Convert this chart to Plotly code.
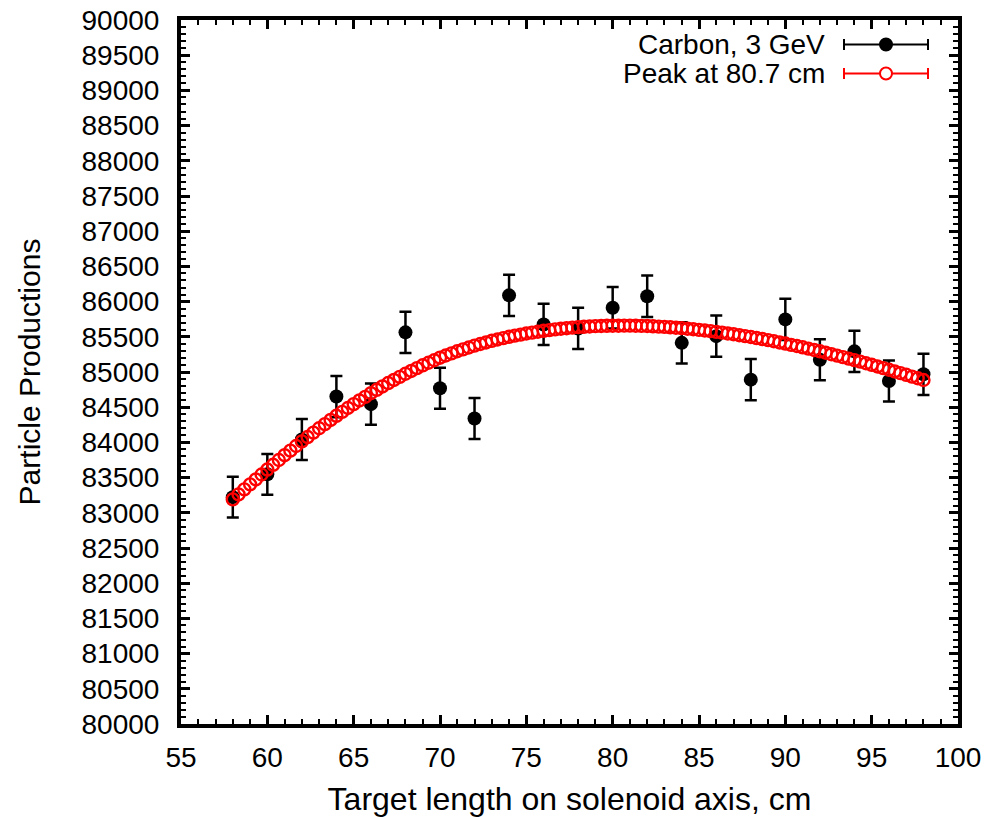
import plotly.graph_objects as go

# Measured data points (Carbon, 3 GeV)
data_x = [58, 60, 62, 64, 66, 68, 70, 72, 74, 76, 78, 80, 82, 84, 86, 88, 90, 92, 94, 96, 98]
data_y = [83222, 83547, 84042, 84651, 84543, 85563, 84769, 84340, 86089, 85675, 85618,
          85912, 86075, 85414, 85509, 84891, 85747, 85174, 85293, 84873, 84967]
data_err = [290, 290, 291, 292, 292, 293, 292, 291, 294, 293, 293,
            294, 294, 293, 293, 292, 293, 292, 292, 292, 292]

# Fitted curve (Peak at 80.7 cm), every 1/3 cm from 58 to 98
fit_y = [83190, 83261, 83333, 83404, 83474, 83544, 83614, 83682, 83750, 83818, 83883, 83949,
         84014, 84076, 84139, 84201, 84260, 84319, 84378, 84433, 84489, 84544, 84596, 84647,
         84699, 84747, 84795, 84843, 84887, 84931, 84975, 85015, 85055, 85095, 85131, 85167,
         85203, 85234, 85264, 85295, 85322, 85348, 85375, 85398, 85420, 85443, 85462, 85481,
         85500, 85516, 85531, 85547, 85560, 85572, 85585, 85595, 85605, 85615, 85622, 85630,
         85637, 85642, 85646, 85651, 85653, 85656, 85658, 85658, 85659, 85659, 85657, 85655,
         85653, 85649, 85645, 85641, 85635, 85629, 85623, 85615, 85607, 85599, 85589, 85580,
         85570, 85559, 85547, 85536, 85523, 85510, 85497, 85482, 85468, 85453, 85437, 85420,
         85404, 85386, 85369, 85351, 85332, 85313, 85294, 85274, 85253, 85233, 85212, 85190,
         85169, 85147, 85124, 85102, 85079, 85055, 85032, 85008, 84984, 84960, 84935, 84911,
         84886]
fit_x = [58 + k / 3 for k in range(len(fit_y))]

legend_labels = ["Carbon, 3 GeV", "Peak at 80.7 cm"]
x_title = "Target length on solenoid axis, cm"
y_title = "Particle Productions"

FONT = "Liberation Sans, Arial, Helvetica, sans-serif"

fig = go.Figure()
fig.add_trace(go.Scatter(
    x=data_x, y=data_y, mode="markers", name=legend_labels[0],
    marker=dict(color="black", size=14, symbol="circle"),
    error_y=dict(type="data", array=data_err, visible=True, color="black",
                 thickness=2.5, width=6),
    showlegend=False))
fig.add_trace(go.Scatter(
    x=fit_x, y=fit_y, mode="markers", name=legend_labels[1],
    marker=dict(color="red", size=12, symbol="circle-open", line=dict(width=2.4, color="red")),
    showlegend=False))

axis_common = dict(
    showline=True, linecolor="black", linewidth=4, mirror="allticks",
    ticks="inside", ticklen=9, tickwidth=2.5, tickcolor="black",
    showgrid=False, zeroline=False, automargin=False,
    tickfont=dict(family=FONT, size=28, color="black"),
)

fig.update_xaxes(
    range=[55, 100], tickmode="linear", tick0=55, dtick=5,
    minor=dict(dtick=1, ticks="inside", ticklen=5, tickwidth=2, tickcolor="black", showgrid=False),
    title=dict(text=x_title, font=dict(family=FONT, size=32, color="black"), standoff=18),
    ticklabelstandoff=5,
    **axis_common)
fig.update_yaxes(
    range=[80000, 90000], tickmode="linear", tick0=80000, dtick=500, tickformat="d",
    minor=dict(dtick=100, ticks="inside", ticklen=5, tickwidth=2, tickcolor="black", showgrid=False),
    title=dict(text=y_title, font=dict(family=FONT, size=30, color="black"), standoff=33),
    ticklabelstandoff=12,
    **axis_common)

# Gnuplot-style key: text on the left, errorbar sample on the right
L, R, T, B = 181, 958, 20, 724
W, H = R - L, B - T
def px(x):
    return (x - L) / W
def py(y):
    return (B - y) / H

shapes = []
annotations = []
key_rows = [(44.5, "black", True), (73.5, "red", False)]
for (yy, col, filled), label in zip(key_rows, legend_labels):
    annotations.append(dict(xref="paper", yref="paper", x=px(827), y=py(yy),
                            xanchor="right", yanchor="middle", showarrow=False,
                            text=label, font=dict(family=FONT, size=28, color="black")))
    shapes.append(dict(type="line", xref="paper", yref="paper",
                       x0=px(844), x1=px(928), y0=py(yy), y1=py(yy),
                       line=dict(color=col, width=2)))
    for xc in (844, 928):
        shapes.append(dict(type="line", xref="paper", yref="paper",
                           x0=px(xc), x1=px(xc), y0=py(yy - 5.5), y1=py(yy + 5.5),
                           line=dict(color=col, width=2)))
    shapes.append(dict(type="circle", xref="paper", yref="paper",
                       xsizemode="pixel", ysizemode="pixel",
                       xanchor=px(886), yanchor=py(yy),
                       x0=-6, x1=6, y0=-6, y1=6,
                       fillcolor=(col if filled else "white"),
                       line=dict(color=col, width=2)))

fig.update_layout(
    width=989, height=817,
    margin=dict(l=L, r=989 - R, t=T, b=817 - B, pad=0, autoexpand=False),
    plot_bgcolor="white", paper_bgcolor="white",
    font=dict(family=FONT, color="black"),
    shapes=shapes, annotations=annotations,
)

fig.write_html("out.html", config={"displayModeBar": False})

# remove the default page margin so the figure sits at the window origin
with open("out.html", "r", encoding="utf-8") as f:
    html = f.read()
html = html.replace("<head>", "<head><style>html,body{margin:0;padding:0;overflow:hidden;}</style>", 1)
with open("out.html", "w", encoding="utf-8") as f:
    f.write(html)
